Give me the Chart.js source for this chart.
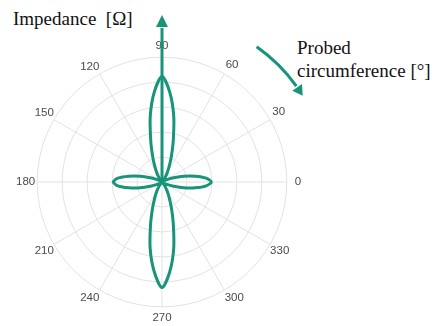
<!DOCTYPE html>
<html>
<head>
<meta charset="utf-8">
<script src="https://cdn.jsdelivr.net/npm/chart.js@4.4.0/dist/chart.umd.min.js"></script>
<style>
  html, body { margin: 0; padding: 0; background: #fff; width: 436px; height: 326px; overflow: hidden; }
  #wrap { position: absolute; left: 0; top: 0; width: 436px; height: 340px; }
  .lbl { position: absolute; font-family: "Liberation Serif", "Times New Roman", serif; font-size: 19px; color: #111; white-space: nowrap; line-height: 23px; }
</style>
</head>
<body>
<div class="lbl" style="left:13px;top:7px;">Impedance&nbsp; [Ω]</div>
<div class="lbl" style="left:297px;top:36px;">Probed<br>circumference [°]</div>
<div id="wrap"><canvas id="c"></canvas></div>
<script>
// Probed angle around the circumference, degrees (counter-clockwise from 0)
const angleDeg = [
  0, 5, 10, 15, 20, 25, 30, 35, 40, 45, 50, 55,
  60, 65, 70, 75, 80, 85, 90, 95, 100, 105, 110, 115,
  120, 125, 130, 135, 140, 145, 150, 155, 160, 165, 170, 175,
  180, 185, 190, 195, 200, 205, 210, 215, 220, 225, 230, 235,
  240, 245, 250, 255, 260, 265, 270, 275, 280, 285, 290, 295,
  300, 305, 310, 315, 320, 325, 330, 335, 340, 345, 350, 355
];

// Measured impedance at each angle
const impedance = [
  39.5, 35.5, 27, 18, 10, 5, 2.5, 1, 0.4, 0.3, 1.5, 4,
  8, 13.5, 22, 35, 54, 72, 84.5, 72, 54, 35, 22, 13.5,
  8, 4, 1.5, 0.3, 0.4, 1, 2.5, 5, 10, 18, 27, 35.5,
  39, 35.5, 27, 18, 10, 5, 2.5, 1, 0.4, 0.3, 1.5, 4,
  8, 13.5, 22, 35.5, 54.5, 72, 84.5, 72, 54, 35, 22, 13.5,
  8, 4, 1.5, 0.3, 0.4, 1, 2.5, 5, 10, 18, 27, 35.5
];

// Angles that carry a label and a spoke
const tickAngles = [0, 30, 60, 90, 120, 150, 180, 210, 240, 270, 300, 330];

const teal = '#17947a';
const gridColor = '#e2e2e2';

// Gap between the outer ring and each angle label, so the labels sit centred on one circle
const labelGap = { 0: 8, 30: 2.5, 60: 2.5, 90: 4.5, 120: 0.5, 150: 0, 180: 2, 210: 0, 240: 0.5, 270: 4.5, 300: 0.5, 330: 0 };

// The radar scale runs clockwise, so walk the angles in reverse order
const n = angleDeg.length;
const order = angleDeg.map((a, i) => (n - i) % n);
const labels = order.map(k => String(angleDeg[k]));
const values = order.map(k => impedance[k]);
const isTick = lbl => tickAngles.includes(Number(lbl));

// Axis arrow pointing up from the centre, and the curved "direction of probing" arrow
const arrows = {
  id: 'arrows',
  afterDatasetsDraw(chart) {
    const s = chart.scales.r;
    const ctx = chart.ctx;
    const cx = s.xCenter, cy = s.yCenter;
    ctx.save();
    ctx.strokeStyle = teal;
    ctx.fillStyle = teal;
    ctx.lineWidth = 3;

    const tipY = 15, baseY = 27;
    ctx.beginPath();
    ctx.moveTo(cx, cy);
    ctx.lineTo(cx, baseY + 1);
    ctx.stroke();
    ctx.beginPath();
    ctx.moveTo(cx, tipY);
    ctx.lineTo(cx - 6, baseY);
    ctx.lineTo(cx + 6, baseY);
    ctx.closePath();
    ctx.fill();

    const R = 165;
    const d2r = Math.PI / 180;
    const a0 = -55 * d2r, a1 = -35.5 * d2r, aTip = -31.5 * d2r;
    ctx.beginPath();
    ctx.arc(cx, cy, R, a0, a1, false);
    ctx.stroke();
    const tx = cx + R * Math.cos(aTip), ty = cy + R * Math.sin(aTip);
    const bx = cx + R * Math.cos(a1 + 0.5 * d2r), by = cy + R * Math.sin(a1 + 0.5 * d2r);
    const nx = Math.cos(a1), ny = Math.sin(a1);
    ctx.beginPath();
    ctx.moveTo(tx, ty);
    ctx.lineTo(bx + nx * 6, by + ny * 6);
    ctx.lineTo(bx - nx * 6, by - ny * 6);
    ctx.closePath();
    ctx.fill();
    ctx.restore();
  }
};

new Chart(document.getElementById('c'), {
  type: 'radar',
  data: {
    labels: labels,
    datasets: [{
      data: values,
      borderColor: teal,
      borderWidth: 3,
      pointRadius: 0,
      pointHoverRadius: 0,
      fill: false,
      tension: 0.3
    }]
  },
  options: {
    responsive: true,
    maintainAspectRatio: false,
    animation: false,
    layout: { padding: { left: 13, top: 37, right: 131, bottom: 11 } },
    plugins: { legend: { display: false }, tooltip: { enabled: false } },
    scales: {
      r: {
        min: 0,
        max: 100,
        startAngle: 90,
        ticks: { display: false, stepSize: 20 },
        grid: { circular: true, color: gridColor, lineWidth: 1 },
        angleLines: {
          display: true,
          color: ctx => isTick(labels[ctx.index]) ? gridColor : 'rgba(0,0,0,0)',
          lineWidth: 1
        },
        pointLabels: {
          display: true,
          padding: ctx => isTick(labels[ctx.index]) ? labelGap[Number(labels[ctx.index])] : 0,
          color: '#4a4a4a',
          font: { family: '"Liberation Sans", Arial, sans-serif', size: 11.5 },
          callback: lbl => isTick(lbl) ? lbl : ''
        }
      }
    }
  },
  plugins: [arrows]
});
</script>
</body>
</html>
